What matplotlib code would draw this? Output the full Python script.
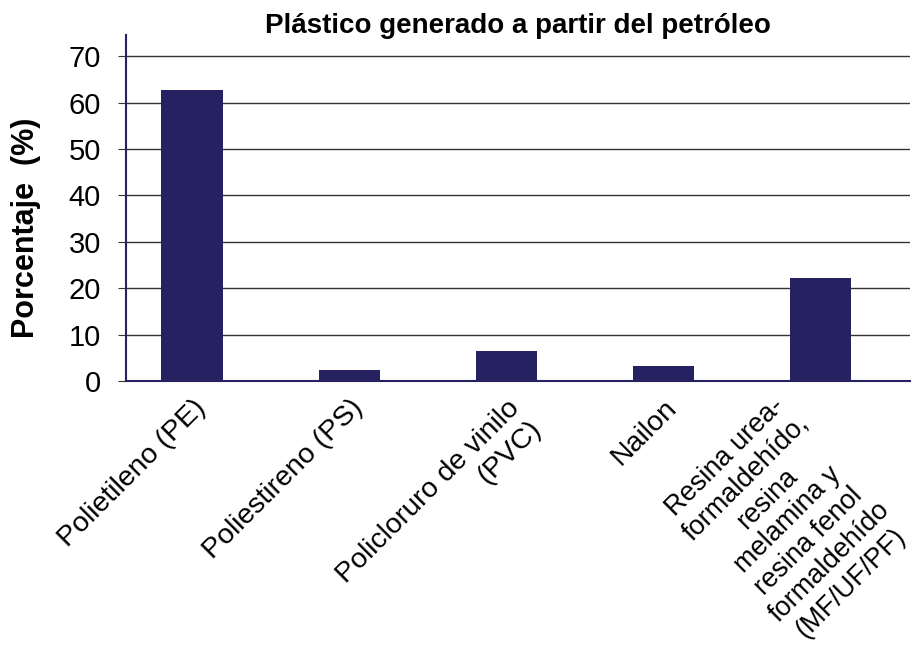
import numpy as np
import matplotlib.pyplot as plt
import matplotlib.transforms as mtransforms

plt.rcParams['font.family'] = ['Liberation Sans', 'DejaVu Sans']

categorias = ['Polietileno (PE)', 'Poliestireno (PS)', 'Policloruro de vinilo\n(PVC)', 'Nailon',
              'Resina urea-\nformaldehído,\nresina\nmelamina y\nresina fenol\nformaldehído\n(MF/UF/PF)']
porcentaje = [62.7, 2.4, 6.5, 3.2, 22.2]
yticks = [0, 10, 20, 30, 40, 50, 60, 70]

navy = '#262262'

fig = plt.figure(figsize=(9.13, 6.57), dpi=100)
ax = fig.add_axes([0.138, 0.42, 0.859, 0.527])

x = np.arange(len(categorias))
ax.bar(x, porcentaje, width=0.39, color=navy, zorder=3)

ax.set_xlim(-0.42, 4.57)
ax.set_ylim(0, 74.6)
ax.set_yticks(yticks)
ax.yaxis.grid(True, color='#333333', linewidth=1.0, zorder=1)
ax.set_axisbelow(True)

for s in ['top', 'right']:
    ax.spines[s].set_visible(False)
for s in ['left', 'bottom']:
    ax.spines[s].set_color(navy)
    ax.spines[s].set_linewidth(1.5)
ax.spines['bottom'].set_zorder(4)

ax.tick_params(axis='y', direction='out', length=6, color='#333333', labelsize=21, pad=12)
ax.tick_params(axis='x', length=0, pad=10)
ax.set_xticks(x)
ax.set_xticklabels(categorias, rotation=45, ha='right', va='top', rotation_mode='anchor',
                   multialignment='center', fontsize=20.5, linespacing=1.2)

labels = ax.get_xticklabels()
labels[2].set_multialignment('right')
# el bloque largo queda algo desplazado a la izquierda y un poco mas pequeño
labels[4].set_fontsize(19.5)
labels[4].set_linespacing(1.18)
labels[4].set_transform(labels[4].get_transform() +
                        mtransforms.ScaledTranslation(-33 / 72, 4 / 72, fig.dpi_scale_trans))

ax.set_ylabel('Porcentaje  (%)', fontsize=22, fontweight='bold')
ax.yaxis.set_label_coords(-0.108, 0.442)
ax.set_title('Plástico generado a partir del petróleo', fontsize=20, fontweight='bold', y=1.006, pad=0)

fig.savefig('out.png', dpi=100)
